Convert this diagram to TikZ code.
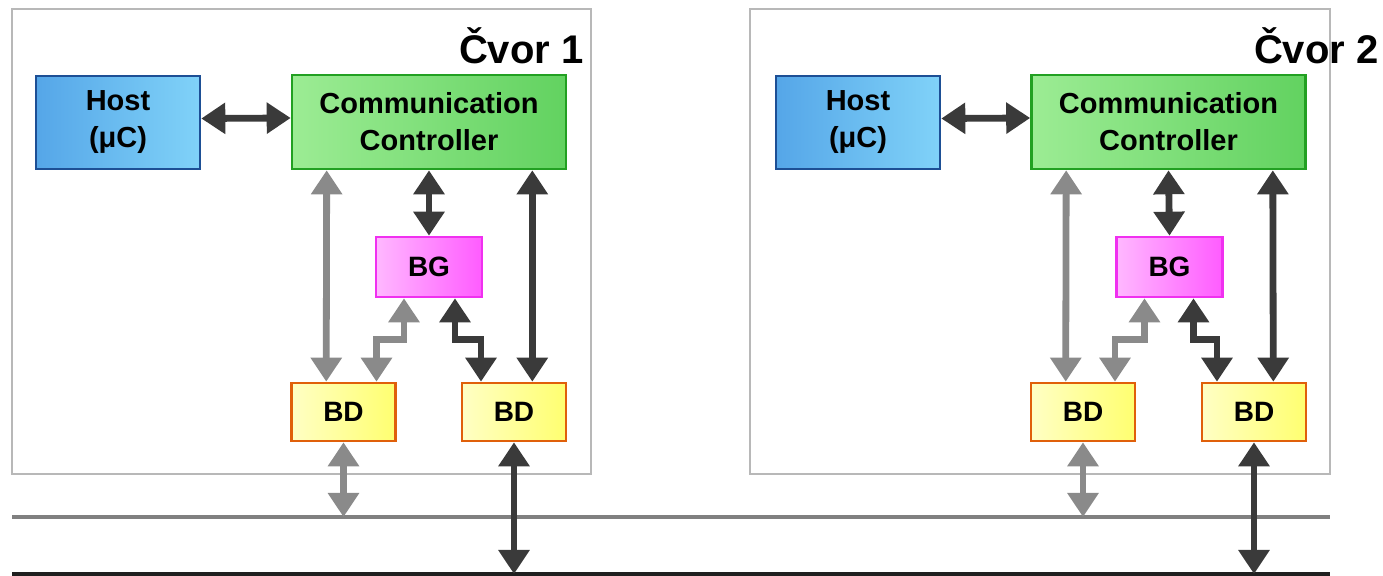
\documentclass[tikz,border=0pt]{standalone}
\usepackage{fontspec}
\setmainfont{Liberation Sans}
\usetikzlibrary{arrows.meta,calc}

\definecolor{hostline}{HTML}{1D4F95}
\definecolor{hostA}{HTML}{55A6E8}
\definecolor{hostB}{HTML}{80D2F8}
\definecolor{ccline}{HTML}{22A022}
\definecolor{ccA}{HTML}{9CEC94}
\definecolor{ccB}{HTML}{62D260}
\definecolor{bgline}{HTML}{F030F0}
\definecolor{bgA}{HTML}{FFB8FF}
\definecolor{bgB}{HTML}{FF5CFF}
\definecolor{bdline}{HTML}{E0600A}
\definecolor{bdA}{HTML}{FFFFC4}
\definecolor{bdB}{HTML}{FFFF70}
\definecolor{lightarr}{HTML}{8A8A8A}
\definecolor{darkarr}{HTML}{3A3A3A}

\begin{document}
\begin{tikzpicture}[x=0.5pt, y=-0.5pt,
    unit/.style={draw, line width=1.3pt, align=center, text=black,
        font=\fontsize{14.5}{18.5}\selectfont\bfseries},
    host/.style={unit, draw=hostline, left color=hostA, right color=hostB,
        minimum width=82pt, minimum height=46.5pt},
    cc/.style={unit, draw=ccline, left color=ccA, right color=ccB,
        minimum width=137pt, minimum height=47pt},
    bg/.style={unit, draw=bgline, left color=bgA, right color=bgB,
        minimum width=53pt, minimum height=30pt, font=\fontsize{14}{16}\selectfont\bfseries},
    bd/.style={unit, draw=bdline, left color=bdA, right color=bdB,
        minimum width=52pt, minimum height=29pt, font=\fontsize{14}{16}\selectfont\bfseries},
    frame/.style={draw=black!28, line width=1.3pt, inner sep=0pt},
    tag/.style={font=\fontsize{20}{24}\selectfont\bfseries, inner sep=0pt, anchor=base east},
    garr/.style={{Triangle[length=12pt,width=15pt]}-{Triangle[length=12pt,width=15pt]},
        line width=3.4pt, draw=lightarr},
    darr/.style={garr, draw=darkarr},
    busline/.style={line width=2pt, draw=black!50},
    lowline/.style={line width=1.6pt, draw=black!88}
]
\useasboundingbox (0,0) rectangle (1383,576);

\node[frame, minimum width=289.5pt, minimum height=232.5pt] (frame1) at (301.5,241.5) {};
\node[frame, minimum width=290pt, minimum height=232.5pt] (frame2) at (1040,241.5) {};
\node[tag] (tag1) at (584,64) {Čvor 1};
\node[tag] (tag2) at (1379,64) {Čvor 2};

\node[host] (host1) at (118,122.5) {Host\\(μC)};
\node[cc] (cc1) at (429,122) {Communication\\Controller};
\node[bg] (bg1) at (429,267) {BG};
\node[bd] (bdl1) at (343.5,412) {BD};
\node[bd] (bdr1) at (514,412) {BD};

\node[host] (host2) at (858,122.5) {Host\\(μC)};
\node[cc] (cc2) at (1168.5,122) {Communication\\Controller};
\node[bg] (bg2) at (1169.5,267) {BG};
\node[bd] (bdl2) at (1083,412) {BD};
\node[bd] (bdr2) at (1254,412) {BD};

\coordinate (busA) at (12,517);
\coordinate (busB) at (1330,517);
\coordinate (lowA) at (12,574);
\coordinate (lowB) at (1330,574);
\draw[busline] (busA) -- (busB);
\draw[lowline] (lowA) -- (lowB);

\draw[darr] ([yshift=2pt]host1.east) -- ([yshift=2pt]cc1.west);
\draw[garr] ($(cc1.south west)+(36,0)$) -- ($(bdl1.north west)+(36,0)$);
\draw[darr] (cc1.south) -- (bg1.north);
\draw[darr] ($(cc1.south east)+(-35,0)$) -- ($(bdr1.north east)+(-35,0)$);
\draw[garr] ($(bg1.south)+(-25,0)$) -- ++(0,41) -| ($(bdl1.north)+(33,0)$);
\draw[darr] ($(bg1.south)+(26,0)$) -- ++(0,41) -| ($(bdr1.north)+(-33,0)$);
\draw[garr] (bdl1.south) -- (bdl1.south |- busA);
\draw[darr] (bdr1.south) -- (bdr1.south |- lowA);

\draw[darr] ([yshift=2pt]host2.east) -- ([yshift=2pt]cc2.west);
\draw[garr] ($(cc2.south west)+(36,0)$) -- ($(bdl2.north west)+(36,0)$);
\draw[darr] (cc2.south) -- (bg2.north);
\draw[darr] ($(cc2.south east)+(-34,0)$) -- ($(bdr2.north east)+(-34,0)$);
\draw[garr] ($(bg2.south)+(-25,0)$) -- ++(0,41) -| ($(bdl2.north)+(32,0)$);
\draw[darr] ($(bg2.south)+(24,0)$) -- ++(0,41) -| ($(bdr2.north)+(-37,0)$);
\draw[garr] (bdl2.south) -- (bdl2.south |- busA);
\draw[darr] (bdr2.south) -- (bdr2.south |- lowA);
\end{tikzpicture}
\end{document}
